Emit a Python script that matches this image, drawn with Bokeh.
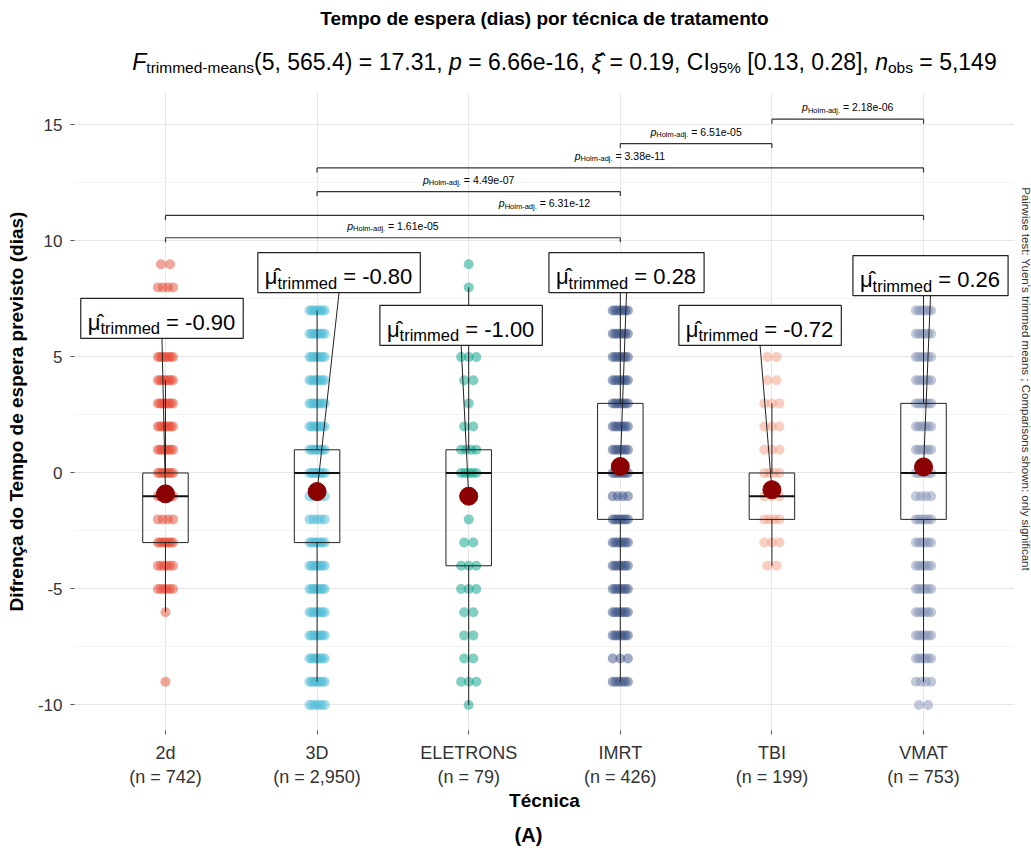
import math
from bokeh.plotting import figure
from bokeh.layouts import column, row
from bokeh.models import Range1d, FixedTicker, SingleIntervalTicker
from bokeh.embed import file_html
from bokeh.resources import INLINE
from bokeh.core.properties import value

# ---------------- data ----------------
groups = ["2d", "3D", "ELETRONS", "IMRT", "TBI", "VMAT"]
n_obs = ["742", "2,950", "79", "426", "199", "753"]
colors = ["#E64B35", "#4DBBD5", "#00A087", "#3C5488", "#F39B7F", "#8491B4"]
trimmed_means = [-0.90, -0.80, -1.00, 0.28, -0.72, 0.26]
mean_text = ["-0.90", "-0.80", "-1.00", "0.28", "-0.72", "0.26"]
q1 = [-3, -3, -4, -2, -2, -2]
medians = [-1, 0, 0, 0, -1, 0]
q3 = [0, 1, 1, 3, 0, 3]
whisker_low = [-6, -9, -10, -9, -4, -9]
whisker_high = [4, 7, 8, 8, 3, 8]
y_ticks = [-10, -5, 0, 5, 10, 15]

# observed integer values and relative point density (overlapping markers)
values_2d = [9, 8, 7, 6, 5, 4, 3, 2, 1, 0, -1, -2, -3, -4, -5, -6, -9]
density_2d = [2, 4, 5, 5, 8, 8, 8, 8, 8, 8, 8, 4, 8, 6, 6, 1, 1]
values_3d = [7, 6, 5, 4, 3, 2, 1, 0, -1, -2, -3, -4, -5, -6, -7, -8, -9, -10]
density_3d = [8, 8, 8, 8, 8, 8, 8, 8, 5, 5, 8, 8, 8, 8, 8, 8, 8, 6]
values_ele = [9, 8, 7, 6, 5, 4, 3, 2, 1, 0, -1, -2, -3, -4, -5, -6, -7, -8, -9, -10]
density_ele = [1, 1, 2, 2, 3, 2, 1, 2, 4, 5, 2, 1, 2, 3, 3, 2, 2, 2, 3, 1]
values_imrt = [8, 7, 6, 5, 4, 3, 2, 1, 0, -1, -2, -3, -4, -5, -6, -7, -8, -9]
density_imrt = [3, 7, 7, 7, 7, 7, 7, 7, 7, 4, 7, 7, 7, 7, 7, 7, 3, 6]
values_tbi = [5, 4, 3, 2, 1, 0, -1, -2, -3, -4]
density_tbi = [2, 2, 3, 3, 3, 4, 3, 4, 3, 2]
values_vmat = [8, 7, 6, 5, 4, 3, 2, 1, 0, -1, -2, -3, -4, -5, -6, -7, -8, -9, -10]
density_vmat = [3, 6, 6, 6, 6, 6, 6, 6, 6, 4, 6, 6, 6, 6, 6, 6, 6, 4, 2]

# pairwise comparisons (Holm-adjusted p values)
pair_a = ["TBI", "IMRT", "3D", "3D", "2d", "2d"]
pair_b = ["VMAT", "TBI", "VMAT", "IMRT", "VMAT", "IMRT"]
pair_p = ["2.18e-06", "6.51e-05", "3.38e-11", "4.49e-07", "6.31e-12", "1.61e-05"]

# ---------------- layout ----------------
pair_y = [15.25, 14.2, 13.15, 12.13, 11.1, 10.14]
label_x = [0.977, 2.145, 2.95, 4.041, 4.922, 6.046]
label_y = [6.66, 8.64, 6.36, 8.64, 6.36, 8.51]

FONT = "Liberation Sans"
X0, X1 = 0.4, 6.6
Y0, Y1 = -11.1, 16.4
W, H = 1031, 850
HEAD_H = 92          # header strip (title + subtitle)
FOOT_H = 30          # footer strip "(A)"
SIDE_W = 17          # right strip (caption)
MAIN_W = W - SIDE_W
MAIN_H = H - HEAD_H - FOOT_H
FL, FR, FT, FB = 74, MAIN_W, HEAD_H, 730   # frame in page pixels
SX = (FR - FL) / (X1 - X0)
SY = (FB - FT) / (Y1 - Y0)


def dx(px):
    return X0 + (px - FL) / SX


def dy(py):
    return Y0 + (FB - py) / SY


def px_x(x):
    return FL + (x - X0) * SX


def px_y(y):
    return FB - (y - Y0) * SY


AW = {' ': 278, '%': 889, "'": 191, '(': 333, ')': 333, ',': 278, '-': 333, '.': 278,
      ':': 278, ';': 278, '=': 584, '[': 278, ']': 278,
      'A': 667, 'B': 667, 'C': 722, 'D': 722, 'E': 667, 'F': 611, 'H': 722, 'I': 278,
      'P': 667, 'T': 611, 'Y': 667,
      'a': 556, 'b': 556, 'c': 500, 'd': 556, 'e': 556, 'f': 278, 'g': 556, 'h': 556,
      'i': 222, 'j': 222, 'k': 500, 'l': 222, 'm': 833, 'n': 556, 'o': 556, 'p': 556,
      'r': 333, 's': 500, 't': 278, 'u': 556, 'v': 500, 'w': 722, 'y': 500,
      'μ': 576, 'ξ': 500, '\u0302': 0}


def tw(s, size):
    return sum(AW.get(c, 556) for c in s) / 1000.0 * size


def layout_pieces(pieces, x_start, base_py, fx=lambda v: v, fy=lambda v: v):
    """Return (x, y, text, size, style) for each piece, laid out left to right (pixels -> fx/fy)."""
    out = []
    x = x_start
    for txt, size, style, drop in pieces:
        stripped = txt.lstrip(" ")
        lead = tw(txt[:len(txt) - len(stripped)], size)
        out.append((fx(x + lead), fy(base_py + drop), stripped, size, style))
        x += tw(txt, size)
    return out


def pieces_width(pieces):
    return sum(tw(t, s) for t, s, _, _ in pieces)


def draw_text(fig, items, angle=0.0, color="black", baseline="alphabetic"):
    combos = sorted(set((s, st) for _, _, _, s, st in items))
    for s, st in combos:
        sel = [t for t in items if t[3] == s and t[4] == st]
        fig.text(x=[t[0] for t in sel], y=[t[1] for t in sel], text=[t[2] for t in sel],
                 text_font=value(FONT), text_font_size=value(f"{s}px"), text_font_style=st,
                 text_color=color, text_align="left", text_baseline=baseline, angle=angle)


def strip_fig(w, h):
    f = figure(width=w, height=h, output_backend="svg", toolbar_location=None, title=None,
               x_range=Range1d(0, w), y_range=Range1d(h, 0), x_axis_type=None, y_axis_type=None,
               min_border=0)
    f.outline_line_color = None
    f.background_fill_color = "white"
    f.border_fill_color = "white"
    f.grid.visible = False
    return f


# ---------------- main figure ----------------
p = figure(width=MAIN_W, height=MAIN_H, output_backend="svg", toolbar_location=None, title=None,
           x_range=Range1d(X0, X1), y_range=Range1d(Y0, Y1),
           min_border_left=FL, min_border_right=0,
           min_border_top=0, min_border_bottom=HEAD_H + MAIN_H - FB)
p.outline_line_color = None
p.background_fill_color = "white"
p.border_fill_color = "white"

cats = list(range(1, len(groups) + 1))
p.xaxis.ticker = FixedTicker(ticks=cats)
p.xaxis.major_label_overrides = {c: f"{g}\n(n = {n})" for c, g, n in zip(cats, groups, n_obs)}
p.xgrid.ticker = FixedTicker(ticks=cats)
p.yaxis.ticker = SingleIntervalTicker(interval=5, num_minor_ticks=2)
p.yaxis.major_label_overrides = {t: str(t) for t in y_ticks}
p.ygrid.grid_line_color = "#E6E6E6"
p.ygrid.minor_grid_line_color = "#F3F3F3"
p.xgrid.grid_line_color = "#E6E6E6"
for ax in (p.xaxis[0], p.yaxis[0]):
    ax.axis_line_color = None
    ax.major_tick_line_color = "#555555"
    ax.major_tick_out = 4
    ax.major_tick_in = 0
    ax.minor_tick_line_color = None
    ax.major_label_text_font = FONT
    ax.major_label_text_color = "#333333"
    ax.axis_label_text_font = FONT
    ax.axis_label_text_font_style = "bold"
    ax.axis_label_text_font_size = "19px"
    ax.axis_label_text_color = "black"
p.xaxis.major_label_text_font_size = "18px"
p.yaxis.major_label_text_font_size = "17px"
p.xaxis.major_label_standoff = 8
p.yaxis.major_label_standoff = 8
p.xaxis.axis_label = "Técnica"
p.xaxis.axis_label_standoff = 0
p.yaxis.axis_label = "Difrença do Tempo de espera previsto (dias)"
p.yaxis.axis_label_standoff = 8

# jittered points
all_values = [values_2d, values_3d, values_ele, values_imrt, values_tbi, values_vmat]
all_density = [density_2d, density_3d, density_ele, density_imrt, density_tbi, density_vmat]
px_, py_, pc_ = [], [], []
for c, col, vals, dens in zip(cats, colors, all_values, all_density):
    for v, k in zip(vals, dens):
        half = min(0.05, 0.03 * (k - 1))
        for j in range(k):
            off = 0.0 if k == 1 else -half + 2 * half * j / (k - 1)
            px_.append(c + off)
            py_.append(v)
            pc_.append(col)
p.scatter(px_, py_, size=10, fill_color=pc_, fill_alpha=0.5, line_alpha=0)

# boxplots
p.quad(left=[c - 0.15 for c in cats], right=[c + 0.15 for c in cats], bottom=q1, top=q3,
       fill_alpha=0, line_color="#222222", line_width=1)
p.segment(x0=[c - 0.15 for c in cats], x1=[c + 0.15 for c in cats], y0=medians, y1=medians,
          line_color="#111111", line_width=2)
p.segment(x0=cats, x1=cats, y0=q3, y1=whisker_high, line_color="#222222", line_width=1)
p.segment(x0=cats, x1=cats, y0=q1, y1=whisker_low, line_color="#222222", line_width=1)

# mean labels
LBL_H = 40
label_pieces, label_widths = [], []
for mt in mean_text:
    pcs = [("μ\u0302", 22, "normal", 0), ("trimmed", 16.5, "normal", 6), (" = " + mt, 22, "normal", 0)]
    label_pieces.append(pcs)
    label_widths.append(pieces_width(pcs) + 15)

p.segment(x0=label_x, x1=cats, y0=[y - (LBL_H / 2) / SY for y in label_y], y1=trimmed_means,
          line_color="#222222", line_width=1)
p.scatter(cats, trimmed_means, size=18, fill_color="#8B0000", line_color="#8B0000")
p.rect(x=label_x, y=label_y, width=label_widths, height=LBL_H, width_units="screen",
       height_units="screen", fill_color="white", line_color="#222222", line_width=1.2)

in_text = []
for lx, ly, pcs, wd in zip(label_x, label_y, label_pieces, label_widths):
    in_text += layout_pieces(pcs, px_x(lx) - wd / 2 + 7, px_y(ly) + 4, dx, dy)

# pairwise brackets
gidx = {g: i + 1 for i, g in enumerate(groups)}
TIP = 4.5 / SY
bx0, bx1, by0, by1 = [], [], [], []
for a, b, yv, pv in zip(pair_a, pair_b, pair_y, pair_p):
    xa, xb = gidx[a], gidx[b]
    bx0 += [xa, xa, xb]
    bx1 += [xb, xa, xb]
    by0 += [yv, yv, yv]
    by1 += [yv, yv - TIP, yv - TIP]
    pcs = [("p", 10.5, "italic", 0), ("Holm-adj.", 7.5, "normal", 3), (" = " + pv, 10.5, "normal", 0)]
    cx = px_x((xa + xb) / 2)
    in_text += layout_pieces(pcs, cx - pieces_width(pcs) / 2, px_y(yv) - 12, dx, dy)
p.segment(x0=bx0, x1=bx1, y0=by0, y1=by1, line_color="#333333", line_width=1.2)
draw_text(p, in_text)

# ---------------- header: title + subtitle ----------------
head = strip_fig(W, HEAD_H)
CENTER = (FL + FR) / 2
head.text(x=[CENTER], y=[18], text=["Tempo de espera (dias) por técnica de tratamento"],
          text_font=value(FONT), text_font_size=value("19px"), text_font_style="bold",
          text_align="center", text_baseline="alphabetic", text_color="black")
sub = [("F", 23, "italic", 0), ("trimmed-means", 15.5, "normal", 6),
       ("(5, 565.4) = 17.31, ", 23, "normal", 0), ("p", 23, "italic", 0),
       (" = 6.66e-16, ", 23, "normal", 0), ("ξ\u0302", 23, "italic", 0),
       (" = 0.19, CI", 23, "normal", 0), ("95%", 15.5, "normal", 6),
       (" [0.13, 0.28], ", 23, "normal", 0), ("n", 23, "italic", 0),
       ("obs", 15.5, "normal", 6), (" = 5,149", 23, "normal", 0)]
draw_text(head, layout_pieces(sub, CENTER + 20 - pieces_width(sub) / 2, 61))

# ---------------- right strip: caption ----------------
side = strip_fig(SIDE_W, MAIN_H)
cap = "Pairwise test: Yuen's trimmed means ; Comparisons shown: only significant"
side.text(x=[11], y=[200 - HEAD_H], text=[cap], text_font=value(FONT),
          text_font_size=value("11.5px"), text_color="#333333", text_align="left",
          text_baseline="middle", angle=-math.pi / 2)

# ---------------- footer: panel tag ----------------
foot = strip_fig(W, FOOT_H)
foot.text(x=[528], y=[14], text=["(A)"], text_font=value(FONT), text_font_size=value("20px"),
          text_font_style="bold", text_align="center", text_baseline="alphabetic", text_color="black")

layout = column(head, row(p, side), foot)
open("out.html", "w").write(file_html(layout, INLINE))
